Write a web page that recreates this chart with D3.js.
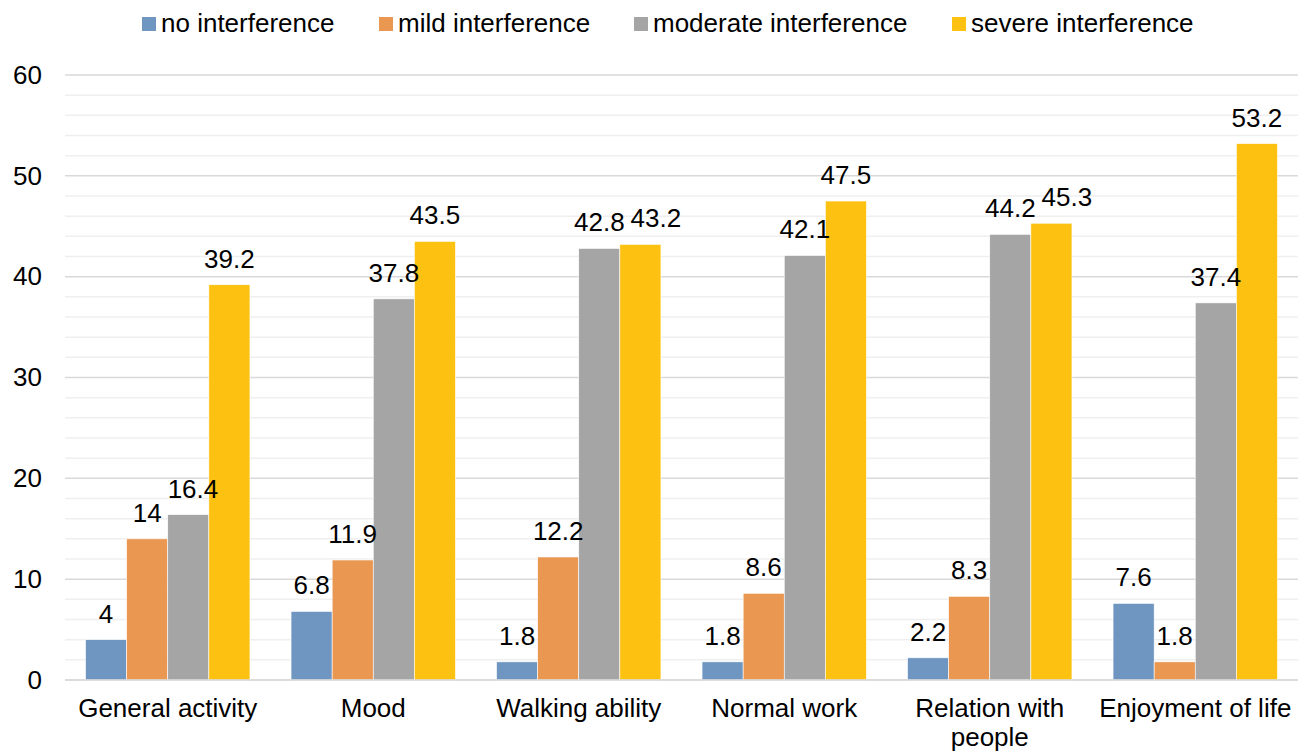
<!DOCTYPE html>
<html><head><meta charset="utf-8">
<script src="https://cdn.jsdelivr.net/npm/d3@7"></script>
<style>body{margin:0;background:#fff;font-family:"Liberation Sans",Arial,sans-serif;}</style>
</head><body><svg id="c" width="1302" height="752"></svg>
<script>
const categories = ["General activity","Mood","Walking ability","Normal work","Relation with people","Enjoyment of life"];
const seriesNames = ["no interference","mild interference","moderate interference","severe interference"];
const noInterference = [4, 6.8, 1.8, 1.8, 2.2, 7.6];
const mildInterference = [14, 11.9, 12.2, 8.6, 8.3, 1.8];
const moderateInterference = [16.4, 37.8, 42.8, 42.1, 44.2, 37.4];
const severeInterference = [39.2, 43.5, 43.2, 47.5, 45.3, 53.2];
const yTicks = [0,10,20,30,40,50,60];
const colors = ["#6f96c1","#e99751","#a5a5a5","#fdc112"];

const FS = 26;
const series = [noInterference, mildInterference, moderateInterference, severeInterference];
const svg = d3.select("#c");
const m = {l:65, r:1298, t:75, b:680};
const x0 = d3.scaleBand().domain(categories).range([m.l, m.r]).paddingInner(0.2).paddingOuter(0.1);
const x1 = d3.scaleBand().domain(d3.range(4)).range([0, x0.bandwidth()]);
const y = d3.scaleLinear().domain([0,60]).range([m.b, m.t]);

// minor grid
svg.append("g").selectAll("line").data(d3.range(0,61,2).filter(v=>v%10!==0)).join("line")
  .attr("x1", m.l).attr("x2", m.r).attr("y1", d=>y(d)).attr("y2", d=>y(d))
  .attr("stroke","#efefef").attr("stroke-width",1.5);
// major grid
svg.append("g").selectAll("line").data(yTicks).join("line")
  .attr("x1", m.l).attr("x2", m.r).attr("y1", d=>y(d)).attr("y2", d=>y(d))
  .attr("stroke","#d9d9d9").attr("stroke-width",1.5);

// y axis labels
const yAxis = d3.axisLeft(y).tickValues(yTicks).tickSize(0).tickPadding(0);
const ya = svg.append("g").attr("transform", `translate(42,0)`).call(yAxis);
ya.select(".domain").remove();
ya.selectAll("text").attr("font-family","Liberation Sans, Arial, sans-serif").attr("font-size",FS).attr("fill","#000");

// bars
const barLayer = svg.append("g");
const labelLayer = svg.append("g");
categories.forEach((cat, ci)=>{
  const gx = x0(cat);
  let prevBox = null;
  series.forEach((s, si)=>{
    barLayer.append("rect").attr("x", gx + x1(si)).attr("width", x1.bandwidth())
      .attr("y", y(s[ci])).attr("height", y(0)-y(s[ci]))
      .attr("fill", colors[si]).attr("stroke","#fff").attr("stroke-width",0.6);
    const t = labelLayer.append("text").attr("x", gx + x1(si)+x1.bandwidth()/2).attr("y", y(s[ci])-17)
      .attr("text-anchor","middle").attr("font-size",FS).attr("fill","#000")
      .text(s[ci]);
    // simple collision avoidance with the previous label in the group
    const bb = t.node().getBBox();
    if (prevBox && bb.x < prevBox.x + prevBox.width + 6 &&
        bb.y < prevBox.y + prevBox.height && bb.y + bb.height > prevBox.y) {
      const dx = prevBox.x + prevBox.width + 6 - bb.x;
      t.attr("x", +t.attr("x") + dx);
    }
    prevBox = t.node().getBBox();
  });
});
// baseline redraw
svg.append("line").attr("x1",m.l).attr("x2",m.r).attr("y1",y(0)).attr("y2",y(0)).attr("stroke","#d9d9d9").attr("stroke-width",1.5);

// x axis labels
const xAxis = d3.axisBottom(x0).tickSize(0).tickPadding(0);
const xa = svg.append("g").attr("transform", `translate(0,${m.b})`).call(xAxis);
xa.select(".domain").remove();
xa.selectAll("text").text(null).attr("font-family","Liberation Sans, Arial, sans-serif").attr("font-size",FS).attr("fill","#000")
  .attr("dy",0).attr("y",0)
  .each(function(d){
    const t = d3.select(this);
    const lines = d==="Relation with people" ? ["Relation with","people"] : [d];
    lines.forEach((ln,i)=> t.append("tspan").attr("x",0).attr("y",37+i*29).text(ln));
  });

// legend
const legX = [142, 379, 634, 952];
const leg = svg.append("g");
seriesNames.forEach((n,i)=>{
  leg.append("rect").attr("x",legX[i]).attr("y",17).attr("width",14).attr("height",14).attr("fill",colors[i]);
  leg.append("text").attr("x",legX[i]+19).attr("y",32).attr("font-size",FS).attr("fill","#000").text(n);
});
</script></body></html>
